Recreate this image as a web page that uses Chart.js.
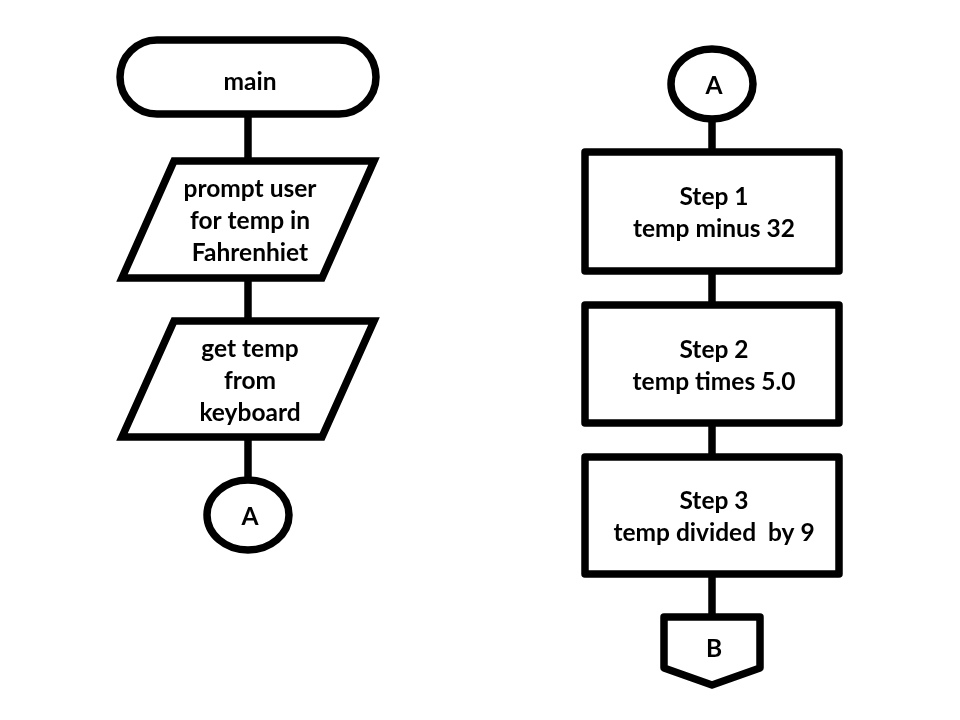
<!DOCTYPE html>
<html>
<head>
<meta charset="utf-8">
<style>
  html, body { margin: 0; padding: 0; background: #fff; }
  #wrap { width: 960px; height: 720px; }
</style>
<script src="https://cdn.jsdelivr.net/npm/chart.js@4/dist/chart.umd.min.js"></script>
</head>
<body>
<div id="wrap"><canvas id="flow"></canvas></div>
<script>
// flowchart nodes, in page units (x across, y down)
var nodeText = [
  ['main'],
  ['prompt user', 'for temp in', 'Fahrenhiet'],
  ['get temp', 'from', 'keyboard'],
  ['A'],
  ['A'],
  ['Step 1', 'temp minus 32'],
  ['Step 2', 'temp times 5.0'],
  ['Step 3', 'temp divided  by 9'],
  ['B']
];
var nodeShape = ['terminal', 'io', 'io', 'connector', 'connector', 'process', 'process', 'process', 'offpage'];
var nodeX = [248, 248, 248, 248, 712, 712, 712, 712, 712];
var nodeTop = [40, 161, 321, 480, 49, 152, 305, 457, 617];
var nodeBottom = [114, 278, 437, 550, 119, 271, 423, 574, 685];
var links = [[0, 1], [1, 2], [2, 3], [4, 5], [5, 6], [6, 7], [7, 8]];

// half widths of each shape kind (page units)
var halfWidth = { terminal: 128, io: 100, connector: 41, process: 127, offpage: 48 };

var flowPlugin = {
  id: 'flow',
  afterDatasetsDraw: function (chart) {
    var ctx = chart.ctx;
    var sx = chart.scales.x, sy = chart.scales.y;
    var px = function (v) { return sx.getPixelForValue(v); };
    var py = function (v) { return sy.getPixelForValue(v); };

    ctx.save();
    ctx.strokeStyle = '#000';
    ctx.fillStyle = '#fff';
    ctx.lineWidth = 7.5;

    // connecting lines first
    links.forEach(function (l) {
      var a = l[0], b = l[1];
      ctx.beginPath();
      ctx.moveTo(px(nodeX[a]), py(nodeBottom[a]));
      ctx.lineTo(px(nodeX[b]), py(nodeTop[b]));
      ctx.stroke();
    });

    nodeText.forEach(function (lines, i) {
      var kind = nodeShape[i];
      var cx = px(nodeX[i]);
      var x0 = px(nodeX[i] - halfWidth[kind]);
      var x1 = px(nodeX[i] + halfWidth[kind]);
      var y0 = py(nodeTop[i]);
      var y1 = py(nodeBottom[i]);
      var cy = (y0 + y1) / 2;
      var h = y1 - y0;

      ctx.beginPath();
      if (kind === 'terminal') {
        var r = h / 2;
        ctx.moveTo(x0 + r, y0);
        ctx.lineTo(x1 - r, y0);
        ctx.arc(x1 - r, cy, r, -Math.PI / 2, Math.PI / 2);
        ctx.lineTo(x0 + r, y1);
        ctx.arc(x0 + r, cy, r, Math.PI / 2, Math.PI * 1.5);
        ctx.closePath();
        ctx.lineJoin = 'round';
      } else if (kind === 'io') {
        var skew = 26;
        ctx.moveTo(x0 + skew, y0);
        ctx.lineTo(x1 + skew, y0);
        ctx.lineTo(x1 - skew, y1);
        ctx.lineTo(x0 - skew, y1);
        ctx.closePath();
        ctx.lineJoin = 'miter';
      } else if (kind === 'connector') {
        ctx.ellipse(cx, cy, (x1 - x0) / 2, h / 2, 0, 0, Math.PI * 2);
      } else if (kind === 'process') {
        ctx.rect(x0, y0, x1 - x0, h);
        ctx.lineJoin = 'round';
      } else if (kind === 'offpage') {
        var side = y0 + h * 0.75;
        ctx.moveTo(x0, y0);
        ctx.lineTo(x1, y0);
        ctx.lineTo(x1, side);
        ctx.lineTo(cx, y1);
        ctx.lineTo(x0, side);
        ctx.closePath();
        ctx.lineJoin = 'round';
      }
      ctx.fill();
      ctx.stroke();

      // label
      ctx.fillStyle = '#000';
      ctx.font = 'bold 24.5px Lato, "Open Sans", sans-serif';
      ctx.textAlign = 'center';
      ctx.textBaseline = 'middle';
      var lh = 32;
      var ty = kind === 'offpage' ? py(nodeTop[i] + 30) : cy;
      if (kind === 'terminal') ty += 3;
      var start = ty - (lines.length - 1) * lh / 2;
      lines.forEach(function (t, k) {
        ctx.fillText(t, cx + 2, start + k * lh + 2);
      });
      ctx.fillStyle = '#fff';
    });
    ctx.restore();
  }
};

new Chart(document.getElementById('flow'), {
  type: 'scatter',
  data: {
    datasets: [{
      data: nodeX.map(function (x, i) { return { x: x, y: (nodeTop[i] + nodeBottom[i]) / 2 }; }),
      pointRadius: 0
    }]
  },
  options: {
    responsive: true,
    maintainAspectRatio: false,
    animation: false,
    layout: { padding: 0 },
    plugins: { legend: { display: false }, tooltip: { enabled: false } },
    scales: {
      x: { type: 'linear', min: 0, max: 960, display: false },
      y: { type: 'linear', min: 0, max: 720, reverse: true, display: false }
    }
  },
  plugins: [flowPlugin]
});
</script>
</body>
</html>
